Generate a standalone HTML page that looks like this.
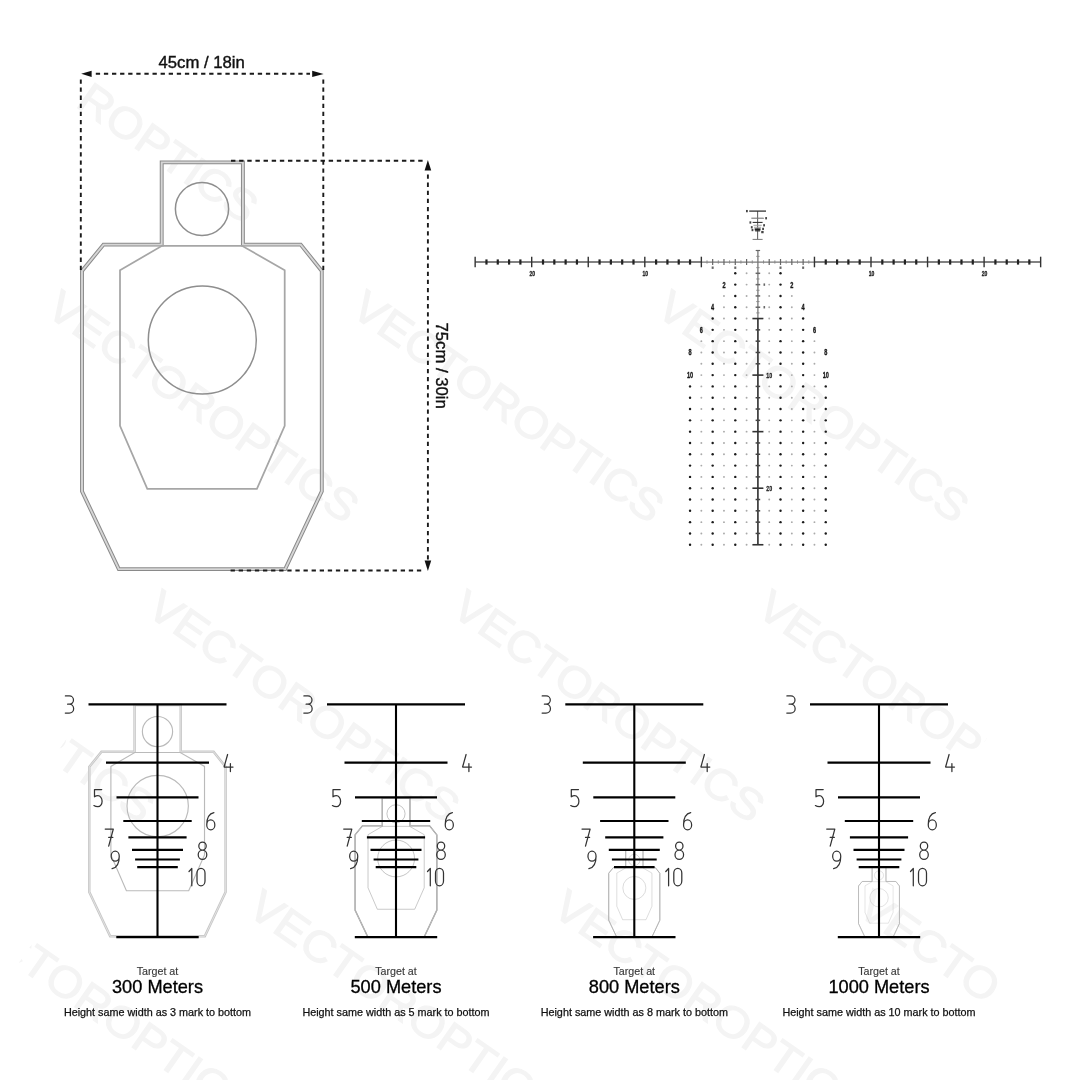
<!DOCTYPE html><html><head><meta charset="utf-8"><style>html,body{margin:0;padding:0;background:#fff;}svg{display:block;filter:grayscale(1);}text{font-family:"Liberation Sans",sans-serif;}</style></head><body>
<svg width="1080" height="1080" viewBox="0 0 1080 1080">
<rect width="1080" height="1080" fill="#fff"/>
<defs><clipPath id="wc0"><rect x="158" y="-20" width="841" height="80"/></clipPath><clipPath id="wc4"><rect x="258" y="-20" width="741" height="80"/></clipPath><clipPath id="wc7"><rect x="-50" y="-20" width="312" height="80"/></clipPath><clipPath id="wc8"><rect x="93" y="-20" width="906" height="80"/></clipPath><clipPath id="wc11"><rect x="-50" y="-20" width="211" height="80"/></clipPath></defs>
<g transform="translate(-39,-11.6) rotate(35.0)"><text clip-path="url(#wc0)" x="0" y="31" font-size="44" fill="#f4f4f4" stroke="#f4f4f4" stroke-width="1.1" textLength="368" lengthAdjust="spacingAndGlyphs">VECTOROPTICS</text></g>
<g transform="translate(61.7,288.1) rotate(35.0)"><text x="0" y="31" font-size="44" fill="#f4f4f4" stroke="#f4f4f4" stroke-width="1.1" textLength="368" lengthAdjust="spacingAndGlyphs">VECTOROPTICS</text></g>
<g transform="translate(366.7,288.1) rotate(35.0)"><text x="0" y="31" font-size="44" fill="#f4f4f4" stroke="#f4f4f4" stroke-width="1.1" textLength="368" lengthAdjust="spacingAndGlyphs">VECTOROPTICS</text></g>
<g transform="translate(671.7,288.1) rotate(35.0)"><text x="0" y="31" font-size="44" fill="#f4f4f4" stroke="#f4f4f4" stroke-width="1.1" textLength="368" lengthAdjust="spacingAndGlyphs">VECTOROPTICS</text></g>
<g transform="translate(-142.6,587.8) rotate(35.0)"><text clip-path="url(#wc4)" x="0" y="31" font-size="44" fill="#f4f4f4" stroke="#f4f4f4" stroke-width="1.1" textLength="368" lengthAdjust="spacingAndGlyphs">VECTOROPTICS</text></g>
<g transform="translate(162.4,587.8) rotate(35.0)"><text x="0" y="31" font-size="44" fill="#f4f4f4" stroke="#f4f4f4" stroke-width="1.1" textLength="368" lengthAdjust="spacingAndGlyphs">VECTOROPTICS</text></g>
<g transform="translate(467.4,587.8) rotate(35.0)"><text x="0" y="31" font-size="44" fill="#f4f4f4" stroke="#f4f4f4" stroke-width="1.1" textLength="368" lengthAdjust="spacingAndGlyphs">VECTOROPTICS</text></g>
<g transform="translate(772.4,587.8) rotate(35.0)"><text clip-path="url(#wc7)" x="0" y="31" font-size="44" fill="#f4f4f4" stroke="#f4f4f4" stroke-width="1.1" textLength="368" lengthAdjust="spacingAndGlyphs">VECTOROPTICS</text></g>
<g transform="translate(-41.9,887.5) rotate(35.0)"><text clip-path="url(#wc8)" x="0" y="31" font-size="44" fill="#f4f4f4" stroke="#f4f4f4" stroke-width="1.1" textLength="368" lengthAdjust="spacingAndGlyphs">VECTOROPTICS</text></g>
<g transform="translate(263.1,887.5) rotate(35.0)"><text x="0" y="31" font-size="44" fill="#f4f4f4" stroke="#f4f4f4" stroke-width="1.1" textLength="368" lengthAdjust="spacingAndGlyphs">VECTOROPTICS</text></g>
<g transform="translate(568.1,887.5) rotate(35.0)"><text x="0" y="31" font-size="44" fill="#f4f4f4" stroke="#f4f4f4" stroke-width="1.1" textLength="368" lengthAdjust="spacingAndGlyphs">VECTOROPTICS</text></g>
<g transform="translate(873.1,887.5) rotate(35.0)"><text clip-path="url(#wc11)" x="0" y="31" font-size="44" fill="#f4f4f4" stroke="#f4f4f4" stroke-width="1.1" textLength="368" lengthAdjust="spacingAndGlyphs">VECTOROPTICS</text></g>
<g transform=""><path d="M161.7,162.4 H242.9 V244.6 H300.7 L321.8,271 V491.3 L285.2,569.1 H118.8 L82,491.3 V271 L103.5,244.6 H161.7 Z" fill="none" stroke="#8a8a8a" stroke-width="3.9" stroke-linejoin="miter"/><path d="M161.7,162.4 H242.9 V244.6 H300.7 L321.8,271 V491.3 L285.2,569.1 H118.8 L82,491.3 V271 L103.5,244.6 H161.7 Z" fill="none" stroke="#d6d6d6" stroke-width="1.9" stroke-linejoin="miter"/><path d="M162,245.8 H242 L284.7,270.3 V425.9 L256.9,488.9 H147.3 L120,425.9 V270.3 Z" fill="none" stroke="#a6a6a6" stroke-width="1.75"/><circle cx="202" cy="209" r="26.6" fill="none" stroke="#8e8e8e" stroke-width="1.5"/><circle cx="202.3" cy="340" r="54" fill="none" stroke="#8e8e8e" stroke-width="1.5"/></g>
<path d="M95.8,73.8 H310" stroke="#1a1a1a" stroke-width="1.9" stroke-dasharray="4.3 3.8" stroke-dashoffset="0" fill="none"/>
<path d="M80.8,79.4 V270" stroke="#1a1a1a" stroke-width="1.9" stroke-dasharray="4.3 3.8" stroke-dashoffset="0" fill="none"/>
<path d="M323.3,79.4 V270" stroke="#1a1a1a" stroke-width="1.9" stroke-dasharray="4.3 3.8" stroke-dashoffset="0" fill="none"/>
<path d="M231,160.7 H423" stroke="#1a1a1a" stroke-width="1.9" stroke-dasharray="4.4 3.74" stroke-dashoffset="0" fill="none"/>
<path d="M427.9,174.5 V560" stroke="#1a1a1a" stroke-width="1.9" stroke-dasharray="4.3 3.8" stroke-dashoffset="0" fill="none"/>
<path d="M230.6,570.5 H425" stroke="#1a1a1a" stroke-width="1.9" stroke-dasharray="4.3 3.8" stroke-dashoffset="0" fill="none"/>
<path d="M81.2,73.8 L91.6,70.7 V76.9 Z" fill="#111"/>
<path d="M323.6,74 L312.2,70.7 V76.9 Z" fill="#111"/>
<path d="M427.9,160 L424.6,170.6 H431.2 Z" fill="#111"/>
<path d="M427.9,571 L424.6,560.4 H431.2 Z" fill="#111"/>
<text x="158.5" y="67.7" font-size="16.7" fill="#111" stroke="#111" stroke-width="0.4">45cm / 18in</text>
<text transform="translate(435.6,322.5) rotate(90)" font-size="16.7" fill="#111" stroke="#111" stroke-width="0.4">75cm / 30in</text>
<g><path d="M475.15,262 H701.35 M814.45,262 H1040.65" stroke="#5a5a5a" stroke-width="1.7"/><path d="M701.35,262 H814.45" stroke="#7a7a7a" stroke-width="1.25"/><path d="M475.15,256.7 V267.3" stroke="#333" stroke-width="1.4"/><path d="M486.46,259.4 V264.6" stroke="#222" stroke-width="2.2"/><path d="M497.77,259.4 V264.6" stroke="#222" stroke-width="2.2"/><path d="M509.08,259.4 V264.6" stroke="#222" stroke-width="2.2"/><path d="M520.39,259.4 V264.6" stroke="#222" stroke-width="2.2"/><path d="M531.7,256.7 V267.3" stroke="#333" stroke-width="1.4"/><path d="M543.01,259.4 V264.6" stroke="#222" stroke-width="2.2"/><path d="M554.32,259.4 V264.6" stroke="#222" stroke-width="2.2"/><path d="M565.63,259.4 V264.6" stroke="#222" stroke-width="2.2"/><path d="M576.94,259.4 V264.6" stroke="#222" stroke-width="2.2"/><path d="M588.25,256.7 V267.3" stroke="#333" stroke-width="1.4"/><path d="M599.56,259.4 V264.6" stroke="#222" stroke-width="2.2"/><path d="M610.87,259.4 V264.6" stroke="#222" stroke-width="2.2"/><path d="M622.18,259.4 V264.6" stroke="#222" stroke-width="2.2"/><path d="M633.49,259.4 V264.6" stroke="#222" stroke-width="2.2"/><path d="M644.8,256.7 V267.3" stroke="#333" stroke-width="1.4"/><path d="M656.11,259.4 V264.6" stroke="#222" stroke-width="2.2"/><path d="M667.42,259.4 V264.6" stroke="#222" stroke-width="2.2"/><path d="M678.73,259.4 V264.6" stroke="#222" stroke-width="2.2"/><path d="M690.04,259.4 V264.6" stroke="#222" stroke-width="2.2"/><path d="M701.35,256.7 V267.3" stroke="#333" stroke-width="1.4"/><path d="M712.66,259 V265" stroke="#666" stroke-width="1.2"/><path d="M723.97,259 V265" stroke="#666" stroke-width="1.2"/><path d="M735.28,259 V265" stroke="#666" stroke-width="1.2"/><path d="M746.59,259 V265" stroke="#666" stroke-width="1.2"/><path d="M769.21,259 V265" stroke="#666" stroke-width="1.2"/><path d="M780.52,259 V265" stroke="#666" stroke-width="1.2"/><path d="M791.83,259 V265" stroke="#666" stroke-width="1.2"/><path d="M803.14,259 V265" stroke="#666" stroke-width="1.2"/><path d="M814.45,256.7 V267.3" stroke="#333" stroke-width="1.4"/><path d="M825.76,259.4 V264.6" stroke="#222" stroke-width="2.2"/><path d="M837.07,259.4 V264.6" stroke="#222" stroke-width="2.2"/><path d="M848.38,259.4 V264.6" stroke="#222" stroke-width="2.2"/><path d="M859.69,259.4 V264.6" stroke="#222" stroke-width="2.2"/><path d="M871,256.7 V267.3" stroke="#333" stroke-width="1.4"/><path d="M882.31,259.4 V264.6" stroke="#222" stroke-width="2.2"/><path d="M893.62,259.4 V264.6" stroke="#222" stroke-width="2.2"/><path d="M904.93,259.4 V264.6" stroke="#222" stroke-width="2.2"/><path d="M916.24,259.4 V264.6" stroke="#222" stroke-width="2.2"/><path d="M927.55,256.7 V267.3" stroke="#333" stroke-width="1.4"/><path d="M938.86,259.4 V264.6" stroke="#222" stroke-width="2.2"/><path d="M950.17,259.4 V264.6" stroke="#222" stroke-width="2.2"/><path d="M961.48,259.4 V264.6" stroke="#222" stroke-width="2.2"/><path d="M972.79,259.4 V264.6" stroke="#222" stroke-width="2.2"/><path d="M984.1,256.7 V267.3" stroke="#333" stroke-width="1.4"/><path d="M995.41,259.4 V264.6" stroke="#222" stroke-width="2.2"/><path d="M1006.72,259.4 V264.6" stroke="#222" stroke-width="2.2"/><path d="M1018.03,259.4 V264.6" stroke="#222" stroke-width="2.2"/><path d="M1029.34,259.4 V264.6" stroke="#222" stroke-width="2.2"/><path d="M1040.65,256.7 V267.3" stroke="#333" stroke-width="1.4"/><path d="M707,260.4 V263.6" stroke="#888" stroke-width="1" /><path d="M718.31,260.4 V263.6" stroke="#888" stroke-width="1" /><path d="M729.62,260.4 V263.6" stroke="#888" stroke-width="1" /><path d="M740.93,260.4 V263.6" stroke="#888" stroke-width="1" /><path d="M752.25,260.4 V263.6" stroke="#888" stroke-width="1" /><path d="M763.55,260.4 V263.6" stroke="#888" stroke-width="1" /><path d="M774.87,260.4 V263.6" stroke="#888" stroke-width="1" /><path d="M786.17,260.4 V263.6" stroke="#888" stroke-width="1" /><path d="M797.49,260.4 V263.6" stroke="#888" stroke-width="1" /><path d="M808.79,260.4 V263.6" stroke="#888" stroke-width="1" /><text transform="translate(532.2,276.3) scale(0.72,1)" font-size="7" font-weight="bold" fill="#222" stroke="#222" stroke-width="0.3" text-anchor="middle">20</text><text transform="translate(645.3,276.3) scale(0.72,1)" font-size="7" font-weight="bold" fill="#222" stroke="#222" stroke-width="0.3" text-anchor="middle">10</text><text transform="translate(871.5,276.3) scale(0.72,1)" font-size="7" font-weight="bold" fill="#222" stroke="#222" stroke-width="0.3" text-anchor="middle">10</text><text transform="translate(984.6,276.3) scale(0.72,1)" font-size="7" font-weight="bold" fill="#222" stroke="#222" stroke-width="0.3" text-anchor="middle">20</text><rect x="711.66" y="266.5" width="2" height="2.4" fill="#666"/><rect x="734.28" y="266.5" width="2" height="2.4" fill="#666"/><rect x="779.52" y="266.5" width="2" height="2.4" fill="#666"/><rect x="802.14" y="266.5" width="2" height="2.4" fill="#666"/><path d="M757.9,318.55 V544.75" stroke="#444" stroke-width="1.8"/><path d="M757.9,250.5 V318.55" stroke="#777" stroke-width="1.3"/><rect x="763.5" y="283.42" width="1.6" height="2.4" fill="#666"/><rect x="763.5" y="306.04" width="1.6" height="2.4" fill="#666"/><path d="M755.7,250.5 H760.1" stroke="#666" stroke-width="1.2"/><path d="M755.6,273.31 H760.2" stroke="#666" stroke-width="1.5"/><path d="M756.3,267.66 H759.5" stroke="#888" stroke-width="1"/><path d="M755.6,284.62 H760.2" stroke="#666" stroke-width="1.5"/><path d="M756.3,278.97 H759.5" stroke="#888" stroke-width="1"/><path d="M755.6,295.93 H760.2" stroke="#666" stroke-width="1.5"/><path d="M756.3,290.28 H759.5" stroke="#888" stroke-width="1"/><path d="M755.6,307.24 H760.2" stroke="#666" stroke-width="1.5"/><path d="M756.3,301.59 H759.5" stroke="#888" stroke-width="1"/><path d="M752.4,318.55 H763.4" stroke="#333" stroke-width="1.6"/><path d="M756.3,312.9 H759.5" stroke="#888" stroke-width="1"/><path d="M755.6,329.86 H760.2" stroke="#444" stroke-width="1.5"/><path d="M755.6,341.17 H760.2" stroke="#444" stroke-width="1.5"/><path d="M755.6,352.48 H760.2" stroke="#444" stroke-width="1.5"/><path d="M755.6,363.79 H760.2" stroke="#444" stroke-width="1.5"/><path d="M752.4,375.1 H763.4" stroke="#333" stroke-width="1.6"/><path d="M755.6,386.41 H760.2" stroke="#444" stroke-width="1.5"/><path d="M755.6,397.72 H760.2" stroke="#444" stroke-width="1.5"/><path d="M755.6,409.03 H760.2" stroke="#444" stroke-width="1.5"/><path d="M755.6,420.34 H760.2" stroke="#444" stroke-width="1.5"/><path d="M752.4,431.65 H763.4" stroke="#333" stroke-width="1.6"/><path d="M755.6,442.96 H760.2" stroke="#444" stroke-width="1.5"/><path d="M755.6,454.27 H760.2" stroke="#444" stroke-width="1.5"/><path d="M755.6,465.58 H760.2" stroke="#444" stroke-width="1.5"/><path d="M755.6,476.89 H760.2" stroke="#444" stroke-width="1.5"/><path d="M752.4,488.2 H763.4" stroke="#333" stroke-width="1.6"/><path d="M755.6,499.51 H760.2" stroke="#444" stroke-width="1.5"/><path d="M755.6,510.82 H760.2" stroke="#444" stroke-width="1.5"/><path d="M755.6,522.13 H760.2" stroke="#444" stroke-width="1.5"/><path d="M755.6,533.44 H760.2" stroke="#444" stroke-width="1.5"/><path d="M752.4,544.75 H763.4" stroke="#333" stroke-width="1.6"/><path d="M756.3,256.35 H759.5" stroke="#888" stroke-width="1"/><text transform="translate(766.2,377.7) scale(0.72,1)" font-size="7.4" font-weight="bold" fill="#222" stroke="#222" stroke-width="0.3">10</text><text transform="translate(766.2,490.8) scale(0.72,1)" font-size="7.4" font-weight="bold" fill="#222" stroke="#222" stroke-width="0.3">20</text><circle cx="746.59" cy="273.31" r="0.95" fill="#aaa"/><circle cx="769.21" cy="273.31" r="0.95" fill="#aaa"/><circle cx="735.28" cy="273.31" r="1.2" fill="#1a1a1a"/><circle cx="780.52" cy="273.31" r="1.2" fill="#1a1a1a"/><circle cx="746.59" cy="284.62" r="0.95" fill="#aaa"/><circle cx="769.21" cy="284.62" r="0.95" fill="#aaa"/><circle cx="735.28" cy="284.62" r="1.2" fill="#1a1a1a"/><circle cx="780.52" cy="284.62" r="1.2" fill="#1a1a1a"/><text transform="translate(723.97,287.52) scale(0.68,1)" font-size="8.2" font-weight="bold" fill="#1a1a1a" stroke="#1a1a1a" stroke-width="0.35" text-anchor="middle">2</text><text transform="translate(791.83,287.52) scale(0.68,1)" font-size="8.2" font-weight="bold" fill="#1a1a1a" stroke="#1a1a1a" stroke-width="0.35" text-anchor="middle">2</text><circle cx="746.59" cy="295.93" r="0.95" fill="#aaa"/><circle cx="769.21" cy="295.93" r="0.95" fill="#aaa"/><circle cx="735.28" cy="295.93" r="1.2" fill="#1a1a1a"/><circle cx="780.52" cy="295.93" r="1.2" fill="#1a1a1a"/><circle cx="723.97" cy="295.93" r="0.95" fill="#aaa"/><circle cx="791.83" cy="295.93" r="0.95" fill="#aaa"/><circle cx="746.59" cy="307.24" r="0.95" fill="#aaa"/><circle cx="769.21" cy="307.24" r="0.95" fill="#aaa"/><circle cx="735.28" cy="307.24" r="1.2" fill="#1a1a1a"/><circle cx="780.52" cy="307.24" r="1.2" fill="#1a1a1a"/><circle cx="723.97" cy="307.24" r="0.95" fill="#aaa"/><circle cx="791.83" cy="307.24" r="0.95" fill="#aaa"/><text transform="translate(712.66,310.14) scale(0.68,1)" font-size="8.2" font-weight="bold" fill="#1a1a1a" stroke="#1a1a1a" stroke-width="0.35" text-anchor="middle">4</text><text transform="translate(803.14,310.14) scale(0.68,1)" font-size="8.2" font-weight="bold" fill="#1a1a1a" stroke="#1a1a1a" stroke-width="0.35" text-anchor="middle">4</text><circle cx="746.59" cy="318.55" r="0.95" fill="#aaa"/><circle cx="769.21" cy="318.55" r="0.95" fill="#aaa"/><circle cx="735.28" cy="318.55" r="1.2" fill="#1a1a1a"/><circle cx="780.52" cy="318.55" r="1.2" fill="#1a1a1a"/><circle cx="723.97" cy="318.55" r="0.95" fill="#aaa"/><circle cx="791.83" cy="318.55" r="0.95" fill="#aaa"/><circle cx="712.66" cy="318.55" r="1.2" fill="#1a1a1a"/><circle cx="803.14" cy="318.55" r="1.2" fill="#1a1a1a"/><circle cx="746.59" cy="329.86" r="0.95" fill="#aaa"/><circle cx="769.21" cy="329.86" r="0.95" fill="#aaa"/><circle cx="735.28" cy="329.86" r="1.2" fill="#1a1a1a"/><circle cx="780.52" cy="329.86" r="1.2" fill="#1a1a1a"/><circle cx="723.97" cy="329.86" r="0.95" fill="#aaa"/><circle cx="791.83" cy="329.86" r="0.95" fill="#aaa"/><circle cx="712.66" cy="329.86" r="1.2" fill="#1a1a1a"/><circle cx="803.14" cy="329.86" r="1.2" fill="#1a1a1a"/><text transform="translate(701.35,332.76) scale(0.68,1)" font-size="8.2" font-weight="bold" fill="#1a1a1a" stroke="#1a1a1a" stroke-width="0.35" text-anchor="middle">6</text><text transform="translate(814.45,332.76) scale(0.68,1)" font-size="8.2" font-weight="bold" fill="#1a1a1a" stroke="#1a1a1a" stroke-width="0.35" text-anchor="middle">6</text><circle cx="746.59" cy="341.17" r="0.95" fill="#aaa"/><circle cx="769.21" cy="341.17" r="0.95" fill="#aaa"/><circle cx="735.28" cy="341.17" r="1.2" fill="#1a1a1a"/><circle cx="780.52" cy="341.17" r="1.2" fill="#1a1a1a"/><circle cx="723.97" cy="341.17" r="0.95" fill="#aaa"/><circle cx="791.83" cy="341.17" r="0.95" fill="#aaa"/><circle cx="712.66" cy="341.17" r="1.2" fill="#1a1a1a"/><circle cx="803.14" cy="341.17" r="1.2" fill="#1a1a1a"/><circle cx="701.35" cy="341.17" r="0.95" fill="#aaa"/><circle cx="814.45" cy="341.17" r="0.95" fill="#aaa"/><circle cx="746.59" cy="352.48" r="0.95" fill="#aaa"/><circle cx="769.21" cy="352.48" r="0.95" fill="#aaa"/><circle cx="735.28" cy="352.48" r="1.2" fill="#1a1a1a"/><circle cx="780.52" cy="352.48" r="1.2" fill="#1a1a1a"/><circle cx="723.97" cy="352.48" r="0.95" fill="#aaa"/><circle cx="791.83" cy="352.48" r="0.95" fill="#aaa"/><circle cx="712.66" cy="352.48" r="1.2" fill="#1a1a1a"/><circle cx="803.14" cy="352.48" r="1.2" fill="#1a1a1a"/><circle cx="701.35" cy="352.48" r="0.95" fill="#aaa"/><circle cx="814.45" cy="352.48" r="0.95" fill="#aaa"/><text transform="translate(690.04,355.38) scale(0.68,1)" font-size="8.2" font-weight="bold" fill="#1a1a1a" stroke="#1a1a1a" stroke-width="0.35" text-anchor="middle">8</text><text transform="translate(825.76,355.38) scale(0.68,1)" font-size="8.2" font-weight="bold" fill="#1a1a1a" stroke="#1a1a1a" stroke-width="0.35" text-anchor="middle">8</text><circle cx="746.59" cy="363.79" r="0.95" fill="#aaa"/><circle cx="769.21" cy="363.79" r="0.95" fill="#aaa"/><circle cx="735.28" cy="363.79" r="1.2" fill="#1a1a1a"/><circle cx="780.52" cy="363.79" r="1.2" fill="#1a1a1a"/><circle cx="723.97" cy="363.79" r="0.95" fill="#aaa"/><circle cx="791.83" cy="363.79" r="0.95" fill="#aaa"/><circle cx="712.66" cy="363.79" r="1.2" fill="#1a1a1a"/><circle cx="803.14" cy="363.79" r="1.2" fill="#1a1a1a"/><circle cx="701.35" cy="363.79" r="0.95" fill="#aaa"/><circle cx="814.45" cy="363.79" r="0.95" fill="#aaa"/><circle cx="746.59" cy="375.1" r="0.95" fill="#aaa"/><circle cx="769.21" cy="375.1" r="0.95" fill="#aaa"/><circle cx="735.28" cy="375.1" r="1.2" fill="#1a1a1a"/><circle cx="780.52" cy="375.1" r="1.2" fill="#1a1a1a"/><circle cx="723.97" cy="375.1" r="0.95" fill="#aaa"/><circle cx="791.83" cy="375.1" r="0.95" fill="#aaa"/><circle cx="712.66" cy="375.1" r="1.2" fill="#1a1a1a"/><circle cx="803.14" cy="375.1" r="1.2" fill="#1a1a1a"/><circle cx="701.35" cy="375.1" r="0.95" fill="#aaa"/><circle cx="814.45" cy="375.1" r="0.95" fill="#aaa"/><text transform="translate(690.04,378) scale(0.68,1)" font-size="8.2" font-weight="bold" fill="#1a1a1a" stroke="#1a1a1a" stroke-width="0.35" text-anchor="middle">10</text><text transform="translate(825.76,378) scale(0.68,1)" font-size="8.2" font-weight="bold" fill="#1a1a1a" stroke="#1a1a1a" stroke-width="0.35" text-anchor="middle">10</text><circle cx="746.59" cy="386.41" r="0.95" fill="#aaa"/><circle cx="769.21" cy="386.41" r="0.95" fill="#aaa"/><circle cx="735.28" cy="386.41" r="1.2" fill="#1a1a1a"/><circle cx="780.52" cy="386.41" r="1.2" fill="#1a1a1a"/><circle cx="723.97" cy="386.41" r="0.95" fill="#aaa"/><circle cx="791.83" cy="386.41" r="0.95" fill="#aaa"/><circle cx="712.66" cy="386.41" r="1.2" fill="#1a1a1a"/><circle cx="803.14" cy="386.41" r="1.2" fill="#1a1a1a"/><circle cx="701.35" cy="386.41" r="0.95" fill="#aaa"/><circle cx="814.45" cy="386.41" r="0.95" fill="#aaa"/><circle cx="690.04" cy="386.41" r="1.2" fill="#1a1a1a"/><circle cx="825.76" cy="386.41" r="1.2" fill="#1a1a1a"/><circle cx="746.59" cy="397.72" r="0.95" fill="#aaa"/><circle cx="769.21" cy="397.72" r="0.95" fill="#aaa"/><circle cx="735.28" cy="397.72" r="1.2" fill="#1a1a1a"/><circle cx="780.52" cy="397.72" r="1.2" fill="#1a1a1a"/><circle cx="723.97" cy="397.72" r="0.95" fill="#aaa"/><circle cx="791.83" cy="397.72" r="0.95" fill="#aaa"/><circle cx="712.66" cy="397.72" r="1.2" fill="#1a1a1a"/><circle cx="803.14" cy="397.72" r="1.2" fill="#1a1a1a"/><circle cx="701.35" cy="397.72" r="0.95" fill="#aaa"/><circle cx="814.45" cy="397.72" r="0.95" fill="#aaa"/><circle cx="690.04" cy="397.72" r="1.2" fill="#1a1a1a"/><circle cx="825.76" cy="397.72" r="1.2" fill="#1a1a1a"/><circle cx="746.59" cy="409.03" r="0.95" fill="#aaa"/><circle cx="769.21" cy="409.03" r="0.95" fill="#aaa"/><circle cx="735.28" cy="409.03" r="1.2" fill="#1a1a1a"/><circle cx="780.52" cy="409.03" r="1.2" fill="#1a1a1a"/><circle cx="723.97" cy="409.03" r="0.95" fill="#aaa"/><circle cx="791.83" cy="409.03" r="0.95" fill="#aaa"/><circle cx="712.66" cy="409.03" r="1.2" fill="#1a1a1a"/><circle cx="803.14" cy="409.03" r="1.2" fill="#1a1a1a"/><circle cx="701.35" cy="409.03" r="0.95" fill="#aaa"/><circle cx="814.45" cy="409.03" r="0.95" fill="#aaa"/><circle cx="690.04" cy="409.03" r="1.2" fill="#1a1a1a"/><circle cx="825.76" cy="409.03" r="1.2" fill="#1a1a1a"/><circle cx="746.59" cy="420.34" r="0.95" fill="#aaa"/><circle cx="769.21" cy="420.34" r="0.95" fill="#aaa"/><circle cx="735.28" cy="420.34" r="1.2" fill="#1a1a1a"/><circle cx="780.52" cy="420.34" r="1.2" fill="#1a1a1a"/><circle cx="723.97" cy="420.34" r="0.95" fill="#aaa"/><circle cx="791.83" cy="420.34" r="0.95" fill="#aaa"/><circle cx="712.66" cy="420.34" r="1.2" fill="#1a1a1a"/><circle cx="803.14" cy="420.34" r="1.2" fill="#1a1a1a"/><circle cx="701.35" cy="420.34" r="0.95" fill="#aaa"/><circle cx="814.45" cy="420.34" r="0.95" fill="#aaa"/><circle cx="690.04" cy="420.34" r="1.2" fill="#1a1a1a"/><circle cx="825.76" cy="420.34" r="1.2" fill="#1a1a1a"/><circle cx="746.59" cy="431.65" r="0.95" fill="#aaa"/><circle cx="769.21" cy="431.65" r="0.95" fill="#aaa"/><circle cx="735.28" cy="431.65" r="1.2" fill="#1a1a1a"/><circle cx="780.52" cy="431.65" r="1.2" fill="#1a1a1a"/><circle cx="723.97" cy="431.65" r="0.95" fill="#aaa"/><circle cx="791.83" cy="431.65" r="0.95" fill="#aaa"/><circle cx="712.66" cy="431.65" r="1.2" fill="#1a1a1a"/><circle cx="803.14" cy="431.65" r="1.2" fill="#1a1a1a"/><circle cx="701.35" cy="431.65" r="0.95" fill="#aaa"/><circle cx="814.45" cy="431.65" r="0.95" fill="#aaa"/><circle cx="690.04" cy="431.65" r="1.2" fill="#1a1a1a"/><circle cx="825.76" cy="431.65" r="1.2" fill="#1a1a1a"/><circle cx="746.59" cy="442.96" r="0.95" fill="#aaa"/><circle cx="769.21" cy="442.96" r="0.95" fill="#aaa"/><circle cx="735.28" cy="442.96" r="1.2" fill="#1a1a1a"/><circle cx="780.52" cy="442.96" r="1.2" fill="#1a1a1a"/><circle cx="723.97" cy="442.96" r="0.95" fill="#aaa"/><circle cx="791.83" cy="442.96" r="0.95" fill="#aaa"/><circle cx="712.66" cy="442.96" r="1.2" fill="#1a1a1a"/><circle cx="803.14" cy="442.96" r="1.2" fill="#1a1a1a"/><circle cx="701.35" cy="442.96" r="0.95" fill="#aaa"/><circle cx="814.45" cy="442.96" r="0.95" fill="#aaa"/><circle cx="690.04" cy="442.96" r="1.2" fill="#1a1a1a"/><circle cx="825.76" cy="442.96" r="1.2" fill="#1a1a1a"/><circle cx="746.59" cy="454.27" r="0.95" fill="#aaa"/><circle cx="769.21" cy="454.27" r="0.95" fill="#aaa"/><circle cx="735.28" cy="454.27" r="1.2" fill="#1a1a1a"/><circle cx="780.52" cy="454.27" r="1.2" fill="#1a1a1a"/><circle cx="723.97" cy="454.27" r="0.95" fill="#aaa"/><circle cx="791.83" cy="454.27" r="0.95" fill="#aaa"/><circle cx="712.66" cy="454.27" r="1.2" fill="#1a1a1a"/><circle cx="803.14" cy="454.27" r="1.2" fill="#1a1a1a"/><circle cx="701.35" cy="454.27" r="0.95" fill="#aaa"/><circle cx="814.45" cy="454.27" r="0.95" fill="#aaa"/><circle cx="690.04" cy="454.27" r="1.2" fill="#1a1a1a"/><circle cx="825.76" cy="454.27" r="1.2" fill="#1a1a1a"/><circle cx="746.59" cy="465.58" r="0.95" fill="#aaa"/><circle cx="769.21" cy="465.58" r="0.95" fill="#aaa"/><circle cx="735.28" cy="465.58" r="1.2" fill="#1a1a1a"/><circle cx="780.52" cy="465.58" r="1.2" fill="#1a1a1a"/><circle cx="723.97" cy="465.58" r="0.95" fill="#aaa"/><circle cx="791.83" cy="465.58" r="0.95" fill="#aaa"/><circle cx="712.66" cy="465.58" r="1.2" fill="#1a1a1a"/><circle cx="803.14" cy="465.58" r="1.2" fill="#1a1a1a"/><circle cx="701.35" cy="465.58" r="0.95" fill="#aaa"/><circle cx="814.45" cy="465.58" r="0.95" fill="#aaa"/><circle cx="690.04" cy="465.58" r="1.2" fill="#1a1a1a"/><circle cx="825.76" cy="465.58" r="1.2" fill="#1a1a1a"/><circle cx="746.59" cy="476.89" r="0.95" fill="#aaa"/><circle cx="769.21" cy="476.89" r="0.95" fill="#aaa"/><circle cx="735.28" cy="476.89" r="1.2" fill="#1a1a1a"/><circle cx="780.52" cy="476.89" r="1.2" fill="#1a1a1a"/><circle cx="723.97" cy="476.89" r="0.95" fill="#aaa"/><circle cx="791.83" cy="476.89" r="0.95" fill="#aaa"/><circle cx="712.66" cy="476.89" r="1.2" fill="#1a1a1a"/><circle cx="803.14" cy="476.89" r="1.2" fill="#1a1a1a"/><circle cx="701.35" cy="476.89" r="0.95" fill="#aaa"/><circle cx="814.45" cy="476.89" r="0.95" fill="#aaa"/><circle cx="690.04" cy="476.89" r="1.2" fill="#1a1a1a"/><circle cx="825.76" cy="476.89" r="1.2" fill="#1a1a1a"/><circle cx="746.59" cy="488.2" r="0.95" fill="#aaa"/><circle cx="769.21" cy="488.2" r="0.95" fill="#aaa"/><circle cx="735.28" cy="488.2" r="1.2" fill="#1a1a1a"/><circle cx="780.52" cy="488.2" r="1.2" fill="#1a1a1a"/><circle cx="723.97" cy="488.2" r="0.95" fill="#aaa"/><circle cx="791.83" cy="488.2" r="0.95" fill="#aaa"/><circle cx="712.66" cy="488.2" r="1.2" fill="#1a1a1a"/><circle cx="803.14" cy="488.2" r="1.2" fill="#1a1a1a"/><circle cx="701.35" cy="488.2" r="0.95" fill="#aaa"/><circle cx="814.45" cy="488.2" r="0.95" fill="#aaa"/><circle cx="690.04" cy="488.2" r="1.2" fill="#1a1a1a"/><circle cx="825.76" cy="488.2" r="1.2" fill="#1a1a1a"/><circle cx="746.59" cy="499.51" r="0.95" fill="#aaa"/><circle cx="769.21" cy="499.51" r="0.95" fill="#aaa"/><circle cx="735.28" cy="499.51" r="1.2" fill="#1a1a1a"/><circle cx="780.52" cy="499.51" r="1.2" fill="#1a1a1a"/><circle cx="723.97" cy="499.51" r="0.95" fill="#aaa"/><circle cx="791.83" cy="499.51" r="0.95" fill="#aaa"/><circle cx="712.66" cy="499.51" r="1.2" fill="#1a1a1a"/><circle cx="803.14" cy="499.51" r="1.2" fill="#1a1a1a"/><circle cx="701.35" cy="499.51" r="0.95" fill="#aaa"/><circle cx="814.45" cy="499.51" r="0.95" fill="#aaa"/><circle cx="690.04" cy="499.51" r="1.2" fill="#1a1a1a"/><circle cx="825.76" cy="499.51" r="1.2" fill="#1a1a1a"/><circle cx="746.59" cy="510.82" r="0.95" fill="#aaa"/><circle cx="769.21" cy="510.82" r="0.95" fill="#aaa"/><circle cx="735.28" cy="510.82" r="1.2" fill="#1a1a1a"/><circle cx="780.52" cy="510.82" r="1.2" fill="#1a1a1a"/><circle cx="723.97" cy="510.82" r="0.95" fill="#aaa"/><circle cx="791.83" cy="510.82" r="0.95" fill="#aaa"/><circle cx="712.66" cy="510.82" r="1.2" fill="#1a1a1a"/><circle cx="803.14" cy="510.82" r="1.2" fill="#1a1a1a"/><circle cx="701.35" cy="510.82" r="0.95" fill="#aaa"/><circle cx="814.45" cy="510.82" r="0.95" fill="#aaa"/><circle cx="690.04" cy="510.82" r="1.2" fill="#1a1a1a"/><circle cx="825.76" cy="510.82" r="1.2" fill="#1a1a1a"/><circle cx="746.59" cy="522.13" r="0.95" fill="#aaa"/><circle cx="769.21" cy="522.13" r="0.95" fill="#aaa"/><circle cx="735.28" cy="522.13" r="1.2" fill="#1a1a1a"/><circle cx="780.52" cy="522.13" r="1.2" fill="#1a1a1a"/><circle cx="723.97" cy="522.13" r="0.95" fill="#aaa"/><circle cx="791.83" cy="522.13" r="0.95" fill="#aaa"/><circle cx="712.66" cy="522.13" r="1.2" fill="#1a1a1a"/><circle cx="803.14" cy="522.13" r="1.2" fill="#1a1a1a"/><circle cx="701.35" cy="522.13" r="0.95" fill="#aaa"/><circle cx="814.45" cy="522.13" r="0.95" fill="#aaa"/><circle cx="690.04" cy="522.13" r="1.2" fill="#1a1a1a"/><circle cx="825.76" cy="522.13" r="1.2" fill="#1a1a1a"/><circle cx="746.59" cy="533.44" r="0.95" fill="#aaa"/><circle cx="769.21" cy="533.44" r="0.95" fill="#aaa"/><circle cx="735.28" cy="533.44" r="1.2" fill="#1a1a1a"/><circle cx="780.52" cy="533.44" r="1.2" fill="#1a1a1a"/><circle cx="723.97" cy="533.44" r="0.95" fill="#aaa"/><circle cx="791.83" cy="533.44" r="0.95" fill="#aaa"/><circle cx="712.66" cy="533.44" r="1.2" fill="#1a1a1a"/><circle cx="803.14" cy="533.44" r="1.2" fill="#1a1a1a"/><circle cx="701.35" cy="533.44" r="0.95" fill="#aaa"/><circle cx="814.45" cy="533.44" r="0.95" fill="#aaa"/><circle cx="690.04" cy="533.44" r="1.2" fill="#1a1a1a"/><circle cx="825.76" cy="533.44" r="1.2" fill="#1a1a1a"/><circle cx="746.59" cy="544.75" r="0.95" fill="#aaa"/><circle cx="769.21" cy="544.75" r="0.95" fill="#aaa"/><circle cx="735.28" cy="544.75" r="1.2" fill="#1a1a1a"/><circle cx="780.52" cy="544.75" r="1.2" fill="#1a1a1a"/><circle cx="723.97" cy="544.75" r="0.95" fill="#aaa"/><circle cx="791.83" cy="544.75" r="0.95" fill="#aaa"/><circle cx="712.66" cy="544.75" r="1.2" fill="#1a1a1a"/><circle cx="803.14" cy="544.75" r="1.2" fill="#1a1a1a"/><circle cx="701.35" cy="544.75" r="0.95" fill="#aaa"/><circle cx="814.45" cy="544.75" r="0.95" fill="#aaa"/><circle cx="690.04" cy="544.75" r="1.2" fill="#1a1a1a"/><circle cx="825.76" cy="544.75" r="1.2" fill="#1a1a1a"/></g>
<g><path d="M757.6,211.1 V239.4" stroke="#666" stroke-width="1.1"/><path d="M749.21,211.1 H765.99" stroke="#333" stroke-width="1.3"/><path d="M751.34,218.2 H763.86" stroke="#777" stroke-width="1.1"/><path d="M752.62,222.42 H762.58" stroke="#333" stroke-width="1.1"/><path d="M753.44,225.29 H761.76" stroke="#999" stroke-width="0.9"/><path d="M754.06,227.27 H761.14" stroke="#999" stroke-width="0.9"/><path d="M754.5,228.79 H760.7" stroke="#888" stroke-width="0.9"/><path d="M754.88,229.97 H760.32" stroke="#444" stroke-width="1.0"/><path d="M755.13,230.9 H760.07" stroke="#333" stroke-width="1.1"/><path d="M752.59,239.4 H762.61" stroke="#777" stroke-width="1"/><rect x="746" y="209.96" width="1.8" height="2.3" fill="#444"/><rect x="765.21" y="217.08" width="1.8" height="2.3" fill="#444"/><rect x="749.47" y="221.33" width="1.8" height="2.3" fill="#444"/><rect x="763.18" y="224.15" width="1.8" height="2.3" fill="#444"/><rect x="750.85" y="226.12" width="1.8" height="2.3" fill="#444"/><rect x="762.17" y="227.73" width="1.8" height="2.3" fill="#444"/><rect x="751.56" y="228.87" width="1.8" height="2.3" fill="#444"/><rect x="761.22" y="230.95" width="2.4" height="2.3" fill="#444"/><path d="M754.8,229.4 H760.4" stroke="#222" stroke-width="1.8"/></g>
<g transform="translate(157.5,704.3) scale(0.56850) translate(-202,-161)"><path d="M161.7,162.4 H242.9 V244.6 H300.7 L321.8,271 V491.3 L285.2,569.1 H118.8 L82,491.3 V271 L103.5,244.6 H161.7 Z" fill="none" stroke="#c6c6c6" stroke-width="2.5" vector-effect="non-scaling-stroke"/><path d="M161.7,162.4 H242.9 V244.6 H300.7 L321.8,271 V491.3 L285.2,569.1 H118.8 L82,491.3 V271 L103.5,244.6 H161.7 Z" fill="none" stroke="#e4e4e4" stroke-width="0.9" vector-effect="non-scaling-stroke"/><path d="M162,245.8 H242 L284.7,270.3 V425.9 L256.9,488.9 H147.3 L120,425.9 V270.3 Z" fill="none" stroke="#bababa" stroke-width="1.15" vector-effect="non-scaling-stroke"/><circle cx="202" cy="209" r="26.6" fill="none" stroke="#bababa" stroke-width="1.15" vector-effect="non-scaling-stroke"/><circle cx="202.3" cy="340" r="54" fill="none" stroke="#bababa" stroke-width="1.15" vector-effect="non-scaling-stroke"/></g>
<g><path d="M157.5,704.3 V937.1" stroke="#000" stroke-width="2.1"/><path d="M88.5,704.3 H226.5" stroke="#000" stroke-width="2.2"/><path d="M106,762.7 H209" stroke="#000" stroke-width="2.2"/><path d="M116.5,797.4 H198.5" stroke="#000" stroke-width="2.2"/><path d="M123.3,821 H191.7" stroke="#000" stroke-width="2.2"/><path d="M128.4,837.3 H186.6" stroke="#000" stroke-width="2.2"/><path d="M132,849.8 H183" stroke="#000" stroke-width="2.2"/><path d="M135.1,859.5 H179.9" stroke="#000" stroke-width="2.2"/><path d="M137.2,867.2 H177.8" stroke="#000" stroke-width="2.2"/><path d="M116.3,937.1 H198.7" stroke="#000" stroke-width="2.2"/></g>
<g transform="translate(65,695.6) scale(1,1)" fill="none" stroke="#333" stroke-width="1.25" stroke-linecap="round" stroke-linejoin="round"><path d="M0.4,0.4 H4.4 A4.1,4.1 0 0 1 4.4,8.6 H2.6 M4.2,8.6 A4.45,4.45 0 0 1 4.2,17.5 H0.3" transform="translate(0,0)"/></g>
<g transform="translate(223,754.2) scale(1,1)" fill="none" stroke="#333" stroke-width="1.25" stroke-linecap="round" stroke-linejoin="round"><path d="M4.6,0.3 L1.1,12.8 H10 M7.4,9.3 V17.3" transform="translate(0,0)"/></g>
<g transform="translate(93.5,789.2) scale(1,1)" fill="none" stroke="#333" stroke-width="1.25" stroke-linecap="round" stroke-linejoin="round"><path d="M8.2,0.4 H1 V7.6 Q2.6,6.5 4.4,6.5 A4.2,5.5 0 0 1 4.4,17.5 Q2,17.5 0.4,16.4" transform="translate(0,0)"/></g>
<g transform="translate(206.3,812.4) scale(1,1)" fill="none" stroke="#333" stroke-width="1.25" stroke-linecap="round" stroke-linejoin="round"><path d="M7.6,0.3 C3.2,1.2 0.5,5.5 0.45,12.3 M0.45,12.5 A4.05,5 0 1 0 8.55,12.5 A4.05,5 0 1 0 0.45,12.5" transform="translate(0,0)"/></g>
<g transform="translate(104.9,828.6) scale(1,1)" fill="none" stroke="#333" stroke-width="1.25" stroke-linecap="round" stroke-linejoin="round"><path d="M0.3,0.5 H8.4 L3.8,17.5 M3.8,8.8 H7.9" transform="translate(0,0)"/></g>
<g transform="translate(198,841.8) scale(1,1)" fill="none" stroke="#333" stroke-width="1.25" stroke-linecap="round" stroke-linejoin="round"><path d="M4.5,8.3 A3.7,4 0 1 1 4.5,0.3 A3.7,4 0 1 1 4.5,8.3 A4.3,4.6 0 1 1 4.5,17.5 A4.3,4.6 0 1 1 4.5,8.3" transform="translate(0,0)"/></g>
<g transform="translate(110.7,851.2) scale(1,1)" fill="none" stroke="#333" stroke-width="1.25" stroke-linecap="round" stroke-linejoin="round"><path d="M0.45,5 A4.05,5 0 1 0 8.55,5 A4.05,5 0 1 0 0.45,5 M8.55,5 C8.6,11.5 6,16.5 1.4,17.5" transform="translate(0,0)"/></g>
<g transform="translate(188,868.3) scale(1,1)" fill="none" stroke="#333" stroke-width="1.25" stroke-linecap="round" stroke-linejoin="round"><path d="M1,3.2 L3.8,0.2 V17.5" transform="translate(0,0)"/><path d="M0.5,4.8 A4,4.8 0 0 1 8.5,4.8 V12.7 A4,4.8 0 0 1 0.5,12.7 Z" transform="translate(8.5,0)"/></g>
<text x="157.5" y="975.4" font-size="10.7" fill="#3a3a3a" stroke="#3a3a3a" stroke-width="0.15" text-anchor="middle">Target at</text>
<text x="157.5" y="993.3" font-size="18.2" fill="#000" stroke="#000" stroke-width="0.3" text-anchor="middle">300 Meters</text>
<text x="157.5" y="1016.1" font-size="10.8" fill="#111" stroke="#111" stroke-width="0.25" text-anchor="middle">Height same width as 3 mark to bottom</text>
<g transform="translate(396,797.4) scale(0.34115) translate(-202,-161)"><path d="M161.7,162.4 H242.9 V244.6 H300.7 L321.8,271 V491.3 L285.2,569.1 H118.8 L82,491.3 V271 L103.5,244.6 H161.7 Z" fill="none" stroke="#8a8a8a" stroke-width="3.9" stroke-linejoin="miter"/><path d="M161.7,162.4 H242.9 V244.6 H300.7 L321.8,271 V491.3 L285.2,569.1 H118.8 L82,491.3 V271 L103.5,244.6 H161.7 Z" fill="none" stroke="#d6d6d6" stroke-width="1.9" stroke-linejoin="miter"/><path d="M162,245.8 H242 L284.7,270.3 V425.9 L256.9,488.9 H147.3 L120,425.9 V270.3 Z" fill="none" stroke="#a6a6a6" stroke-width="1.75"/><circle cx="202" cy="209" r="26.6" fill="none" stroke="#8e8e8e" stroke-width="1.5"/><circle cx="202.3" cy="340" r="54" fill="none" stroke="#8e8e8e" stroke-width="1.5"/></g>
<g><path d="M396,704.3 V937.1" stroke="#000" stroke-width="2.1"/><path d="M327,704.3 H465" stroke="#000" stroke-width="2.2"/><path d="M344.5,762.7 H447.5" stroke="#000" stroke-width="2.2"/><path d="M355,797.4 H437" stroke="#000" stroke-width="2.2"/><path d="M361.8,821 H430.2" stroke="#000" stroke-width="2.2"/><path d="M366.9,837.3 H425.1" stroke="#000" stroke-width="2.2"/><path d="M370.5,849.8 H421.5" stroke="#000" stroke-width="2.2"/><path d="M373.6,859.5 H418.4" stroke="#000" stroke-width="2.2"/><path d="M375.7,867.2 H416.3" stroke="#000" stroke-width="2.2"/><path d="M354.8,937.1 H437.2" stroke="#000" stroke-width="2.2"/></g>
<g transform="translate(303.5,695.6) scale(1,1)" fill="none" stroke="#333" stroke-width="1.25" stroke-linecap="round" stroke-linejoin="round"><path d="M0.4,0.4 H4.4 A4.1,4.1 0 0 1 4.4,8.6 H2.6 M4.2,8.6 A4.45,4.45 0 0 1 4.2,17.5 H0.3" transform="translate(0,0)"/></g>
<g transform="translate(461.5,754.2) scale(1,1)" fill="none" stroke="#333" stroke-width="1.25" stroke-linecap="round" stroke-linejoin="round"><path d="M4.6,0.3 L1.1,12.8 H10 M7.4,9.3 V17.3" transform="translate(0,0)"/></g>
<g transform="translate(332,789.2) scale(1,1)" fill="none" stroke="#333" stroke-width="1.25" stroke-linecap="round" stroke-linejoin="round"><path d="M8.2,0.4 H1 V7.6 Q2.6,6.5 4.4,6.5 A4.2,5.5 0 0 1 4.4,17.5 Q2,17.5 0.4,16.4" transform="translate(0,0)"/></g>
<g transform="translate(444.8,812.4) scale(1,1)" fill="none" stroke="#333" stroke-width="1.25" stroke-linecap="round" stroke-linejoin="round"><path d="M7.6,0.3 C3.2,1.2 0.5,5.5 0.45,12.3 M0.45,12.5 A4.05,5 0 1 0 8.55,12.5 A4.05,5 0 1 0 0.45,12.5" transform="translate(0,0)"/></g>
<g transform="translate(343.4,828.6) scale(1,1)" fill="none" stroke="#333" stroke-width="1.25" stroke-linecap="round" stroke-linejoin="round"><path d="M0.3,0.5 H8.4 L3.8,17.5 M3.8,8.8 H7.9" transform="translate(0,0)"/></g>
<g transform="translate(436.5,841.8) scale(1,1)" fill="none" stroke="#333" stroke-width="1.25" stroke-linecap="round" stroke-linejoin="round"><path d="M4.5,8.3 A3.7,4 0 1 1 4.5,0.3 A3.7,4 0 1 1 4.5,8.3 A4.3,4.6 0 1 1 4.5,17.5 A4.3,4.6 0 1 1 4.5,8.3" transform="translate(0,0)"/></g>
<g transform="translate(349.2,851.2) scale(1,1)" fill="none" stroke="#333" stroke-width="1.25" stroke-linecap="round" stroke-linejoin="round"><path d="M0.45,5 A4.05,5 0 1 0 8.55,5 A4.05,5 0 1 0 0.45,5 M8.55,5 C8.6,11.5 6,16.5 1.4,17.5" transform="translate(0,0)"/></g>
<g transform="translate(426.5,868.3) scale(1,1)" fill="none" stroke="#333" stroke-width="1.25" stroke-linecap="round" stroke-linejoin="round"><path d="M1,3.2 L3.8,0.2 V17.5" transform="translate(0,0)"/><path d="M0.5,4.8 A4,4.8 0 0 1 8.5,4.8 V12.7 A4,4.8 0 0 1 0.5,12.7 Z" transform="translate(8.5,0)"/></g>
<text x="396" y="975.4" font-size="10.7" fill="#3a3a3a" stroke="#3a3a3a" stroke-width="0.15" text-anchor="middle">Target at</text>
<text x="396" y="993.3" font-size="18.2" fill="#000" stroke="#000" stroke-width="0.3" text-anchor="middle">500 Meters</text>
<text x="396" y="1016.1" font-size="10.8" fill="#111" stroke="#111" stroke-width="0.25" text-anchor="middle">Height same width as 5 mark to bottom</text>
<g transform="translate(634.3,849.8) scale(0.21319) translate(-202,-161)"><path d="M161.7,162.4 H242.9 V244.6 H300.7 L321.8,271 V491.3 L285.2,569.1 H118.8 L82,491.3 V271 L103.5,244.6 H161.7 Z" fill="none" stroke="#8a8a8a" stroke-width="3.9" stroke-linejoin="miter"/><path d="M161.7,162.4 H242.9 V244.6 H300.7 L321.8,271 V491.3 L285.2,569.1 H118.8 L82,491.3 V271 L103.5,244.6 H161.7 Z" fill="none" stroke="#d6d6d6" stroke-width="1.9" stroke-linejoin="miter"/><path d="M162,245.8 H242 L284.7,270.3 V425.9 L256.9,488.9 H147.3 L120,425.9 V270.3 Z" fill="none" stroke="#a6a6a6" stroke-width="1.75"/><circle cx="202" cy="209" r="26.6" fill="none" stroke="#8e8e8e" stroke-width="1.5"/><circle cx="202.3" cy="340" r="54" fill="none" stroke="#8e8e8e" stroke-width="1.5"/></g>
<g><path d="M634.3,704.3 V937.1" stroke="#000" stroke-width="2.1"/><path d="M565.3,704.3 H703.3" stroke="#000" stroke-width="2.2"/><path d="M582.8,762.7 H685.8" stroke="#000" stroke-width="2.2"/><path d="M593.3,797.4 H675.3" stroke="#000" stroke-width="2.2"/><path d="M600.1,821 H668.5" stroke="#000" stroke-width="2.2"/><path d="M605.2,837.3 H663.4" stroke="#000" stroke-width="2.2"/><path d="M608.8,849.8 H659.8" stroke="#000" stroke-width="2.2"/><path d="M611.9,859.5 H656.7" stroke="#000" stroke-width="2.2"/><path d="M614,867.2 H654.6" stroke="#000" stroke-width="2.2"/><path d="M593.1,937.1 H675.5" stroke="#000" stroke-width="2.2"/></g>
<g transform="translate(541.8,695.6) scale(1,1)" fill="none" stroke="#333" stroke-width="1.25" stroke-linecap="round" stroke-linejoin="round"><path d="M0.4,0.4 H4.4 A4.1,4.1 0 0 1 4.4,8.6 H2.6 M4.2,8.6 A4.45,4.45 0 0 1 4.2,17.5 H0.3" transform="translate(0,0)"/></g>
<g transform="translate(699.8,754.2) scale(1,1)" fill="none" stroke="#333" stroke-width="1.25" stroke-linecap="round" stroke-linejoin="round"><path d="M4.6,0.3 L1.1,12.8 H10 M7.4,9.3 V17.3" transform="translate(0,0)"/></g>
<g transform="translate(570.3,789.2) scale(1,1)" fill="none" stroke="#333" stroke-width="1.25" stroke-linecap="round" stroke-linejoin="round"><path d="M8.2,0.4 H1 V7.6 Q2.6,6.5 4.4,6.5 A4.2,5.5 0 0 1 4.4,17.5 Q2,17.5 0.4,16.4" transform="translate(0,0)"/></g>
<g transform="translate(683.1,812.4) scale(1,1)" fill="none" stroke="#333" stroke-width="1.25" stroke-linecap="round" stroke-linejoin="round"><path d="M7.6,0.3 C3.2,1.2 0.5,5.5 0.45,12.3 M0.45,12.5 A4.05,5 0 1 0 8.55,12.5 A4.05,5 0 1 0 0.45,12.5" transform="translate(0,0)"/></g>
<g transform="translate(581.7,828.6) scale(1,1)" fill="none" stroke="#333" stroke-width="1.25" stroke-linecap="round" stroke-linejoin="round"><path d="M0.3,0.5 H8.4 L3.8,17.5 M3.8,8.8 H7.9" transform="translate(0,0)"/></g>
<g transform="translate(674.8,841.8) scale(1,1)" fill="none" stroke="#333" stroke-width="1.25" stroke-linecap="round" stroke-linejoin="round"><path d="M4.5,8.3 A3.7,4 0 1 1 4.5,0.3 A3.7,4 0 1 1 4.5,8.3 A4.3,4.6 0 1 1 4.5,17.5 A4.3,4.6 0 1 1 4.5,8.3" transform="translate(0,0)"/></g>
<g transform="translate(587.5,851.2) scale(1,1)" fill="none" stroke="#333" stroke-width="1.25" stroke-linecap="round" stroke-linejoin="round"><path d="M0.45,5 A4.05,5 0 1 0 8.55,5 A4.05,5 0 1 0 0.45,5 M8.55,5 C8.6,11.5 6,16.5 1.4,17.5" transform="translate(0,0)"/></g>
<g transform="translate(664.8,868.3) scale(1,1)" fill="none" stroke="#333" stroke-width="1.25" stroke-linecap="round" stroke-linejoin="round"><path d="M1,3.2 L3.8,0.2 V17.5" transform="translate(0,0)"/><path d="M0.5,4.8 A4,4.8 0 0 1 8.5,4.8 V12.7 A4,4.8 0 0 1 0.5,12.7 Z" transform="translate(8.5,0)"/></g>
<text x="634.3" y="975.4" font-size="10.7" fill="#3a3a3a" stroke="#3a3a3a" stroke-width="0.15" text-anchor="middle">Target at</text>
<text x="634.3" y="993.3" font-size="18.2" fill="#000" stroke="#000" stroke-width="0.3" text-anchor="middle">800 Meters</text>
<text x="634.3" y="1016.1" font-size="10.8" fill="#111" stroke="#111" stroke-width="0.25" text-anchor="middle">Height same width as 8 mark to bottom</text>
<g transform="translate(879,867.2) scale(0.17070) translate(-202,-161)"><path d="M161.7,162.4 H242.9 V244.6 H300.7 L321.8,271 V491.3 L285.2,569.1 H118.8 L82,491.3 V271 L103.5,244.6 H161.7 Z" fill="none" stroke="#8a8a8a" stroke-width="3.9" stroke-linejoin="miter"/><path d="M161.7,162.4 H242.9 V244.6 H300.7 L321.8,271 V491.3 L285.2,569.1 H118.8 L82,491.3 V271 L103.5,244.6 H161.7 Z" fill="none" stroke="#d6d6d6" stroke-width="1.9" stroke-linejoin="miter"/><path d="M162,245.8 H242 L284.7,270.3 V425.9 L256.9,488.9 H147.3 L120,425.9 V270.3 Z" fill="none" stroke="#a6a6a6" stroke-width="1.75"/><circle cx="202" cy="209" r="26.6" fill="none" stroke="#8e8e8e" stroke-width="1.5"/><circle cx="202.3" cy="340" r="54" fill="none" stroke="#8e8e8e" stroke-width="1.5"/></g>
<g><path d="M879,704.3 V937.1" stroke="#000" stroke-width="2.1"/><path d="M810,704.3 H948" stroke="#000" stroke-width="2.2"/><path d="M827.5,762.7 H930.5" stroke="#000" stroke-width="2.2"/><path d="M838,797.4 H920" stroke="#000" stroke-width="2.2"/><path d="M844.8,821 H913.2" stroke="#000" stroke-width="2.2"/><path d="M849.9,837.3 H908.1" stroke="#000" stroke-width="2.2"/><path d="M853.5,849.8 H904.5" stroke="#000" stroke-width="2.2"/><path d="M856.6,859.5 H901.4" stroke="#000" stroke-width="2.2"/><path d="M858.7,867.2 H899.3" stroke="#000" stroke-width="2.2"/><path d="M837.8,937.1 H920.2" stroke="#000" stroke-width="2.2"/></g>
<g transform="translate(786.5,695.6) scale(1,1)" fill="none" stroke="#333" stroke-width="1.25" stroke-linecap="round" stroke-linejoin="round"><path d="M0.4,0.4 H4.4 A4.1,4.1 0 0 1 4.4,8.6 H2.6 M4.2,8.6 A4.45,4.45 0 0 1 4.2,17.5 H0.3" transform="translate(0,0)"/></g>
<g transform="translate(944.5,754.2) scale(1,1)" fill="none" stroke="#333" stroke-width="1.25" stroke-linecap="round" stroke-linejoin="round"><path d="M4.6,0.3 L1.1,12.8 H10 M7.4,9.3 V17.3" transform="translate(0,0)"/></g>
<g transform="translate(815,789.2) scale(1,1)" fill="none" stroke="#333" stroke-width="1.25" stroke-linecap="round" stroke-linejoin="round"><path d="M8.2,0.4 H1 V7.6 Q2.6,6.5 4.4,6.5 A4.2,5.5 0 0 1 4.4,17.5 Q2,17.5 0.4,16.4" transform="translate(0,0)"/></g>
<g transform="translate(927.8,812.4) scale(1,1)" fill="none" stroke="#333" stroke-width="1.25" stroke-linecap="round" stroke-linejoin="round"><path d="M7.6,0.3 C3.2,1.2 0.5,5.5 0.45,12.3 M0.45,12.5 A4.05,5 0 1 0 8.55,12.5 A4.05,5 0 1 0 0.45,12.5" transform="translate(0,0)"/></g>
<g transform="translate(826.4,828.6) scale(1,1)" fill="none" stroke="#333" stroke-width="1.25" stroke-linecap="round" stroke-linejoin="round"><path d="M0.3,0.5 H8.4 L3.8,17.5 M3.8,8.8 H7.9" transform="translate(0,0)"/></g>
<g transform="translate(919.5,841.8) scale(1,1)" fill="none" stroke="#333" stroke-width="1.25" stroke-linecap="round" stroke-linejoin="round"><path d="M4.5,8.3 A3.7,4 0 1 1 4.5,0.3 A3.7,4 0 1 1 4.5,8.3 A4.3,4.6 0 1 1 4.5,17.5 A4.3,4.6 0 1 1 4.5,8.3" transform="translate(0,0)"/></g>
<g transform="translate(832.2,851.2) scale(1,1)" fill="none" stroke="#333" stroke-width="1.25" stroke-linecap="round" stroke-linejoin="round"><path d="M0.45,5 A4.05,5 0 1 0 8.55,5 A4.05,5 0 1 0 0.45,5 M8.55,5 C8.6,11.5 6,16.5 1.4,17.5" transform="translate(0,0)"/></g>
<g transform="translate(909.5,868.3) scale(1,1)" fill="none" stroke="#333" stroke-width="1.25" stroke-linecap="round" stroke-linejoin="round"><path d="M1,3.2 L3.8,0.2 V17.5" transform="translate(0,0)"/><path d="M0.5,4.8 A4,4.8 0 0 1 8.5,4.8 V12.7 A4,4.8 0 0 1 0.5,12.7 Z" transform="translate(8.5,0)"/></g>
<text x="879" y="975.4" font-size="10.7" fill="#3a3a3a" stroke="#3a3a3a" stroke-width="0.15" text-anchor="middle">Target at</text>
<text x="879" y="993.3" font-size="18.2" fill="#000" stroke="#000" stroke-width="0.3" text-anchor="middle">1000 Meters</text>
<text x="879" y="1016.1" font-size="10.8" fill="#111" stroke="#111" stroke-width="0.25" text-anchor="middle">Height same width as 10 mark to bottom</text>
</svg></body></html>
